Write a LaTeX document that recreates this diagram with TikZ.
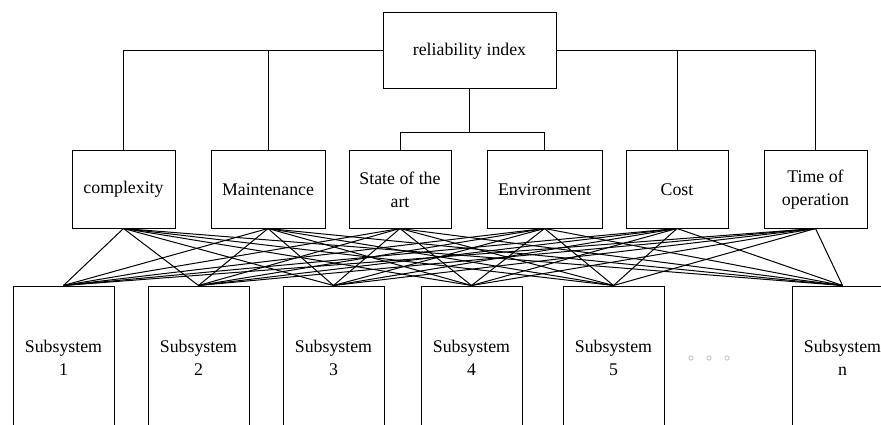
\documentclass[tikz,border=0pt]{standalone}
\usepackage{fontspec}
\setmainfont{Liberation Serif}

\tikzset{
    box/.style={draw, line width=1pt, align=center, inner sep=0pt},
    crit/.style={box, minimum height=77pt},
    subsys/.style={box, minimum width=101pt, minimum height=144pt},
    link/.style={line width=1pt}
}

\begin{document}
\begin{tikzpicture}[x=1pt, y=-1pt, font=\fontsize{17.8}{23}\selectfont]
    \useasboundingbox (0, 0) rectangle (881, 425);

    % top index
    \node[box, minimum width=173pt, minimum height=76pt] (rel) at (469.5, 51) {reliability index};

    % criteria
    \node[crit, minimum width=103pt] (cplx) at (123.5, 189.5) {complexity};
    \node[crit, minimum width=114pt] (maint) at (268, 189.5) {Maintenance};
    \node[crit, minimum width=102pt] (state) at (400, 189.5) {State of the\\art};
    \node[crit, minimum width=115pt] (env) at (544.5, 189.5) {Environment};
    \node[crit, minimum width=102pt] (cost) at (677, 189.5) {Cost};
    \node[crit, minimum width=103pt] (time) at (815.5, 189.5) {Time of\\operation};

    % subsystems
    \node[subsys] (sub1) at (63.5, 358) {Subsystem\\1};
    \node[subsys] (sub2) at (198.5, 358) {Subsystem\\2};
    \node[subsys] (sub3) at (333.5, 358) {Subsystem\\3};
    \node[subsys] (sub4) at (471.5, 358) {Subsystem\\4};
    \node[subsys] (sub5) at (613.5, 358) {Subsystem\\5};
    \node[subsys] (subn) at (842.5, 358) {Subsystem\\n};
    \node[text=gray, font=\fontsize{13}{15}\selectfont] (dots) at (709, 359) {$\circ$\hspace{12pt}$\circ$\hspace{12pt}$\circ$};

    % tree from index to criteria
    \coordinate (br) at (469.5, 133);
    \draw[link] (rel.west) -| (cplx.north);
    \draw[link] (rel.west) -| (maint.north);
    \draw[link] (rel.east) -| (cost.north);
    \draw[link] (rel.east) -| (time.north);
    \draw[link] (rel.south) -- (br);
    \draw[link] (br) -| (state.north);
    \draw[link] (br) -| (env.north);

    % every criterion to every subsystem
    \foreach \c in {cplx, maint, state, env, cost, time}
        \foreach \s in {sub1, sub2, sub3, sub4, sub5, subn}
            \draw[link] (\c.south) -- (\s.north);
\end{tikzpicture}
\end{document}
